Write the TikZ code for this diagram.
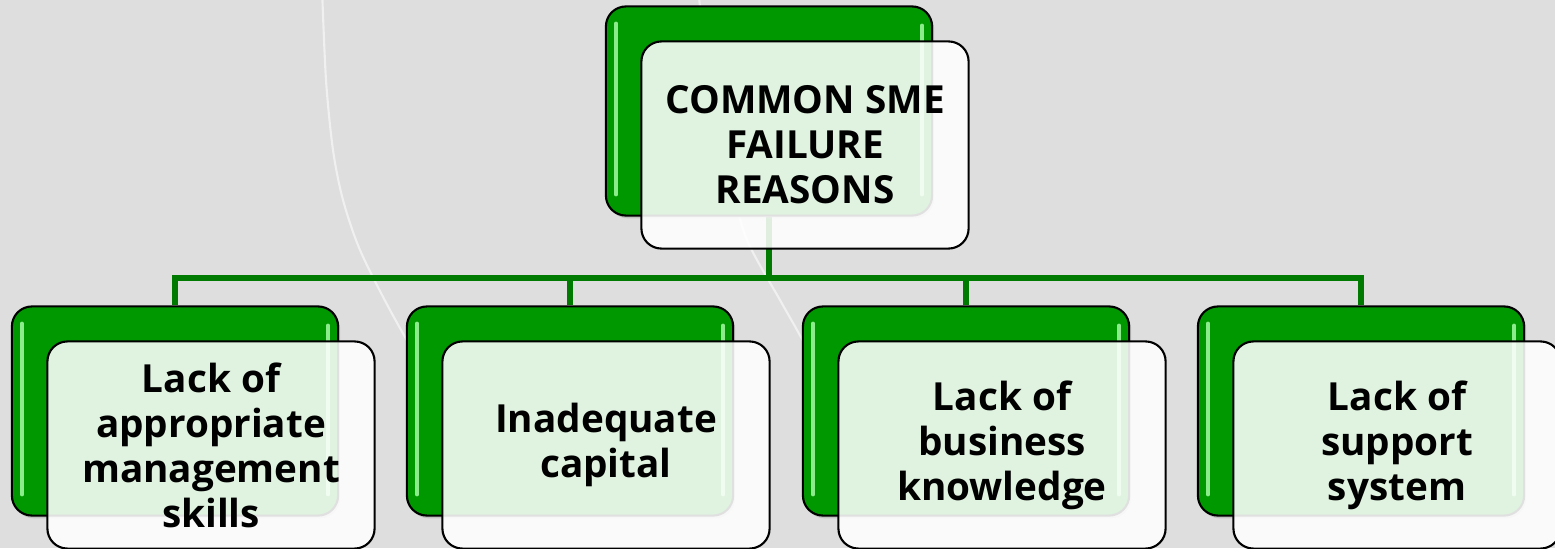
\documentclass[tikz,border=0pt]{standalone}
\usepackage{fontspec}
\setmainfont{Open Sans}
\usetikzlibrary{shadows}
\pgfdeclarelayer{paper}
\pgfdeclarelayer{wires}
\pgfsetlayers{paper,wires,main}
\definecolor{leaf}{RGB}{0,152,0}
\definecolor{branch}{RGB}{0,122,0}
\definecolor{gloss}{RGB}{140,236,140}
\definecolor{slide}{RGB}{222,222,222}
\begin{document}
\begin{tikzpicture}
        [x=0.01cm, y=0.01cm,
         leafbox/.style={rectangle, rounded corners=0.2cm, draw=black, line width=0.6pt, fill=leaf,
           minimum width=3.26cm, minimum height=2.09cm, inner sep=0pt,
           drop shadow={opacity=0.3, shadow xshift=0.6pt, shadow yshift=-0.8pt}},
         labelbox/.style={rectangle, rounded corners=0.2cm, draw=black, line width=0.6pt, fill=white,
           fill opacity=0.88, text opacity=1, minimum width=3.27cm, minimum height=2.07cm,
           inner sep=0pt, align=center, font=\bfseries\fontsize{11}{12.8}\selectfont},
         shine/.style={gloss, line width=1pt, line cap=round},
         wire/.style={branch, line width=1.6pt},
         swoosh/.style={white!55!slide, line width=0.6pt}]
        \useasboundingbox (0,0) rectangle (1555,548);
        \begin{pgfonlayer}{paper}
          \fill[slide] (0,0) rectangle (1555,548);
          \draw[swoosh] plot[smooth] coordinates {(322,560) (326,468) (333,398) (343,348) (360,298) (390,238) (430,168) (480,88)};
          \draw[swoosh] plot[smooth] coordinates {(698,560) (706,488) (716,428) (730,368) (747,308) (780,248) (797,218) (830,158)};
        \end{pgfonlayer}
        \node[leafbox] (groot) at (769,437) {};
        \draw[shine] ([shift={(11,-18)}]groot.north west) -- ([shift={(11,22)}]groot.south west);
        \draw[shine] ([shift={(-11,-20)}]groot.north east) -- ([shift={(-11,22)}]groot.south east);
        \node[labelbox] (wroot) at (805,403) {COMMON SME\\FAILURE\\REASONS};
        \foreach \n/\x/\txt in {1/175/{Lack of\\appropriate\\management\\skills},
                                2/570/{Inadequate\\capital},
                                3/966/{Lack of\\business\\knowledge},
                                4/1361/{Lack of\\support\\system}}
          {
            \node[leafbox] (g\n) at (\x,137) {};
            \draw[shine] ([shift={(11,-18)}]g\n.north west) -- ([shift={(11,22)}]g\n.south west);
            \draw[shine] ([shift={(-11,-20)}]g\n.north east) -- ([shift={(-11,22)}]g\n.south east);
            \node[labelbox] (w\n) at (\x+36,103) {\txt};
          }
        \begin{pgfonlayer}{wires}
          \coordinate (hub) at (769,270);
          \draw[wire] (groot.south) -- (hub);
          \draw[wire] (g1.north) -- (g1.north |- hub) -- (g4.north |- hub) -- (g4.north);
          \foreach \n in {2,3}
            \draw[wire] (g\n.north) -- (g\n.north |- hub);
        \end{pgfonlayer}
      \end{tikzpicture}
\end{document}
